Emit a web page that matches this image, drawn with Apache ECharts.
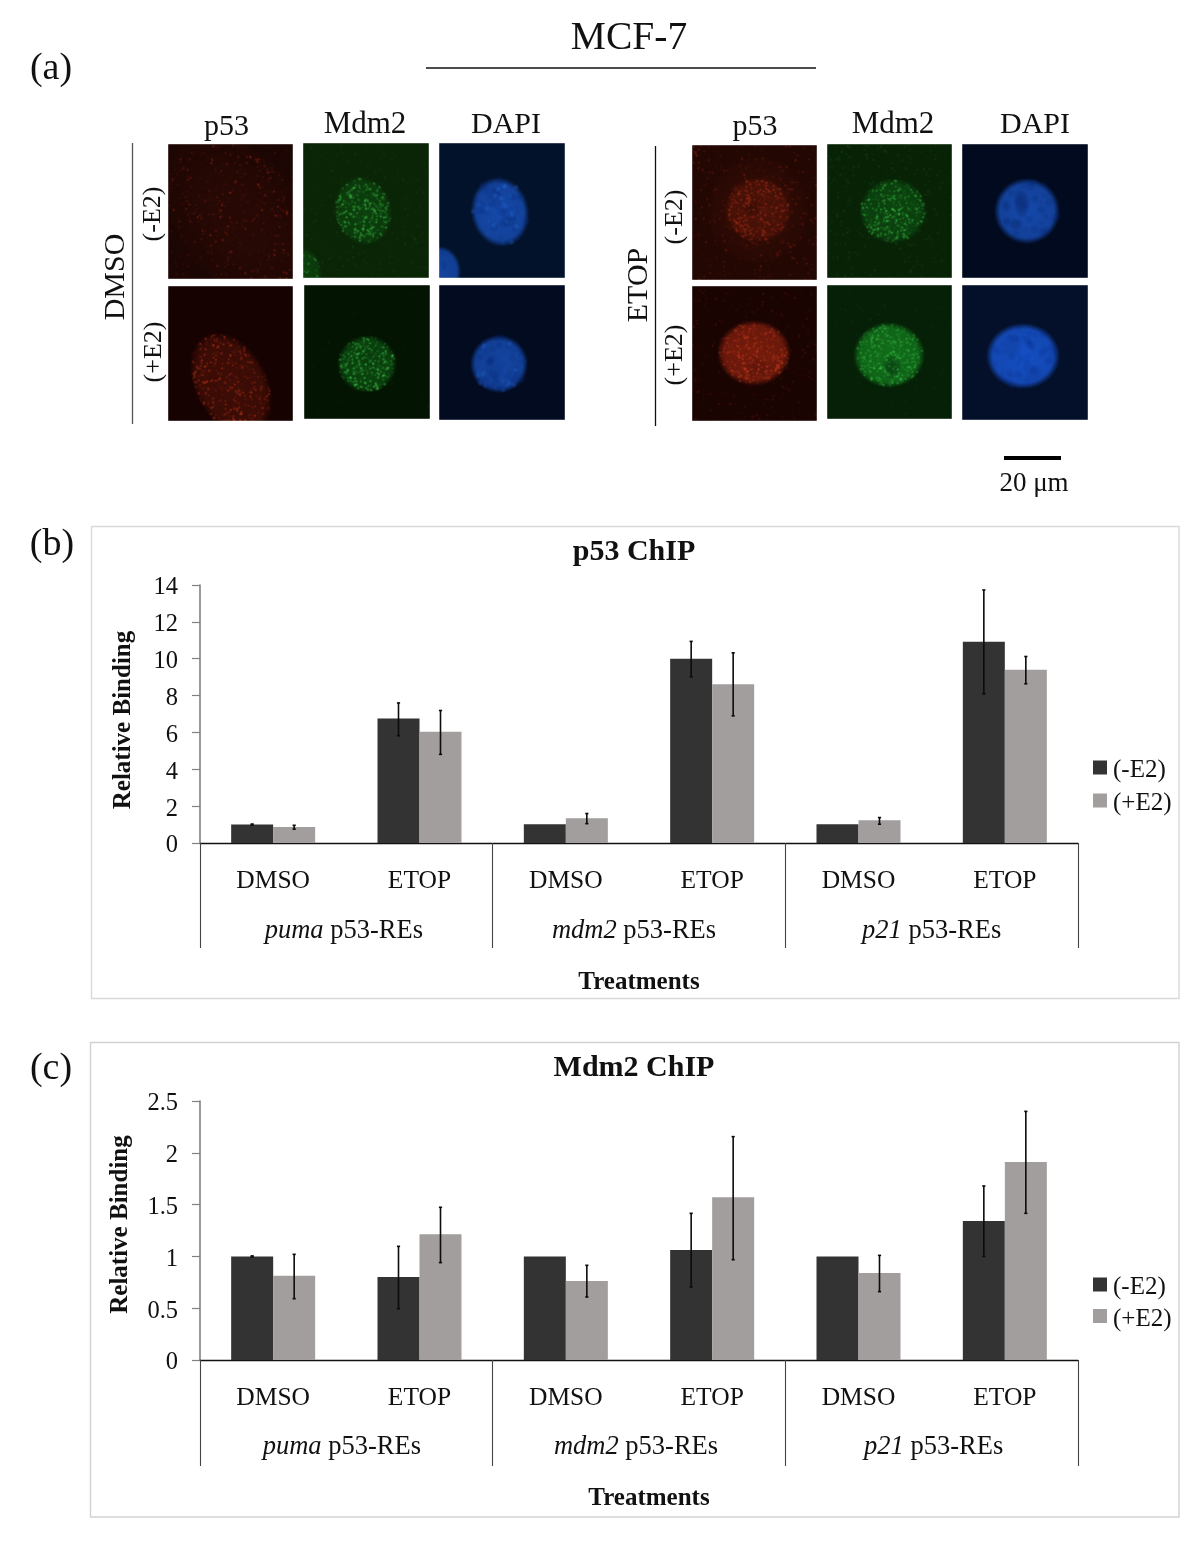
<!DOCTYPE html>
<html>
<head>
<meta charset="utf-8">
<style>html,body{margin:0;padding:0;background:#fff}#chart{width:1200px;height:1552px}</style>
<script src="https://cdn.jsdelivr.net/npm/echarts@6/dist/echarts.min.js"></script>
</head>
<body>
<div id="chart"></div>
<script>
const treatments = ['DMSO','ETOP','DMSO','ETOP','DMSO','ETOP'];
const genes = ['puma','mdm2','p21'];
const yTicksP53 = {min:0, max:14, interval:2};
const yTicksMdm2 = {min:0, max:2.5, interval:0.5};

const p53Minus   = [1.00, 6.75, 1.02, 10.00, 1.02, 10.92];
const p53MinusLo = [0.97, 5.82, 1.02, 9.02, 1.02, 8.09];
const p53MinusHi = [1.03, 7.60, 1.02, 10.94, 1.02, 13.73];
const p53Plus    = [0.87, 6.04, 1.34, 8.62, 1.23, 9.40];
const p53PlusLo  = [0.75, 4.81, 1.05, 6.90, 1.02, 8.64];
const p53PlusHi  = [0.96, 7.19, 1.60, 10.32, 1.38, 10.12];

const mdm2Minus   = [1.00, 0.80, 1.00, 1.062, 1.00, 1.342];
const mdm2MinusLo = [0.995, 0.495, 1.00, 0.705, 1.00, 1.00];
const mdm2MinusHi = [1.005, 1.097, 1.00, 1.416, 1.00, 1.68];
const mdm2Plus    = [0.814, 1.213, 0.763, 1.57, 0.84, 1.911];
const mdm2PlusLo  = [0.592, 0.94, 0.608, 0.968, 0.66, 1.416];
const mdm2PlusHi  = [1.02, 1.474, 0.914, 2.156, 1.01, 2.40];

const FONT = '"Liberation Serif","Times New Roman",serif';
const DARK = '#333333', LIGHT = '#a19e9d';
const BAR_W = 42;

/* ---------- micrograph panels, painted on small canvases ---------- */
function hash(n){const s=Math.sin(n*12.9898+4.1414)*43758.5453;return s-Math.floor(s);}
function softBlob(c,b,rgb,alpha){
  c.save();c.translate(b.x,b.y);c.rotate((b.rot||0)*Math.PI/180);c.scale(b.rx,b.ry);
  const g=c.createRadialGradient(0,0,0,0,0,1);
  g.addColorStop(0,`rgba(${rgb},${alpha})`);g.addColorStop(b.edge||0.82,`rgba(${rgb},${alpha*0.88})`);
  g.addColorStop(0.94,`rgba(${rgb},${alpha*0.3})`);g.addColorStop(1,`rgba(${rgb},0)`);
  c.fillStyle=g;c.beginPath();c.arc(0,0,1,0,Math.PI*2);c.fill();c.restore();
}
function speckle(c,w,h,sp,b,seed){
  // hashed scatter, purely a visual texture for the micrographs
  const rgb=sp[0],count=sp[1],alpha=sp[2],size=sp[3]||1;
  for(let i=0;i<count;i++){
    const k=seed+i*3,u=hash(k),v=hash(k+1),q=hash(k+2);
    let x,y;
    if(b){
      const r=Math.sqrt(v)*0.94,t=u*Math.PI*2,ex=Math.cos(t)*r*b.rx,ey=Math.sin(t)*r*b.ry,ro=(b.rot||0)*Math.PI/180;
      x=b.x+ex*Math.cos(ro)-ey*Math.sin(ro);y=b.y+ex*Math.sin(ro)+ey*Math.cos(ro);
    } else {x=u*w;y=v*h;}
    c.fillStyle=`rgba(${rgb},${alpha*(0.3+q*0.7)})`;
    c.beginPath();c.arc(x,y,(0.4+q*0.6)*size,0,Math.PI*2);c.fill();
  }
}
function paintPanel(p,idx){
  const w=p.w,h=p.h,raw=document.createElement('canvas');raw.width=w*2;raw.height=h*2;
  const c=raw.getContext('2d');c.scale(2,2);
  c.fillStyle=p.bg;c.fillRect(0,0,w,h);
  let seed=101+idx*977;
  if(p.noise){speckle(c,w,h,p.noise,null,seed);seed+=p.noise[1]*3;}
  (p.blobs||[]).forEach(b=>{
    softBlob(c,b,b.rgb,b.a);
    (b.holes||[]).forEach(o=>softBlob(c,{x:o.x,y:o.y,rx:o.rx,ry:o.ry,rot:o.rot,edge:0.5},b.holeRgb,o.a||0.6));
    (b.sp||[]).forEach(s=>{speckle(c,w,h,s,b,seed);seed+=s[1]*3;});
  });
  const out=document.createElement('canvas');out.width=raw.width;out.height=raw.height;
  const o=out.getContext('2d');o.filter='blur(1.3px)';o.drawImage(raw,0,0);
  return out;
}
const B='26,88,205';
const panels=[
 // left, p53
 {x:168,y:144,w:125,h:135,bg:'#1c0603',noise:['120,30,14',300,0.45],blobs:[
   {x:72,y:74,rx:62,ry:95,rot:-38,rgb:'85,20,10',a:0.2,edge:0.4,sp:[['170,44,20',280,0.65]]}]},
 {x:168,y:286,w:125,h:135,bg:'#150201',noise:['80,16,8',70,0.3],blobs:[
   {x:63,y:98,rx:37,ry:56,rot:-28,rgb:'95,22,10',a:0.55,sp:[['215,58,28',420,0.62]]}]},
 // left, Mdm2
 {x:303,y:143,w:126,h:135,bg:'#0a2506',noise:['30,90,28',300,0.35],blobs:[
   {x:60,y:68,rx:29,ry:35,rot:-14,rgb:'12,72,16',a:0.7,sp:[['70,215,80',340,0.65]]},
   {x:0,y:133,rx:19,ry:28,rot:0,rgb:'12,72,16',a:0.7,sp:[['70,205,80',100,0.55]]}]},
 {x:304,y:285,w:126,h:134,bg:'#041402',noise:['22,70,22',120,0.3],blobs:[
   {x:63,y:79,rx:30,ry:29,rot:0,rgb:'12,80,18',a:0.8,holes:[{x:66,y:74,rx:11,ry:16,a:0.35}],holeRgb:'6,45,10',sp:[['75,225,85',340,0.65]]}]},
 // left, DAPI
 {x:439,y:143,w:126,h:135,bg:'#03122b',blobs:[
   {x:61,y:69,rx:29,ry:35,rot:-12,rgb:B,a:0.78,holes:[{x:55,y:52,rx:9,ry:12,a:0.3},{x:70,y:78,rx:7,ry:7,a:0.25}],holeRgb:'10,45,120',
    sp:[['8,40,120',50,0.22,4],['50,125,245',30,0.25,2.5]]},
   {x:0,y:128,rx:22,ry:25,rot:0,rgb:B,a:0.72,sp:[['8,40,120',14,0.22,4]]}]},
 {x:439,y:285,w:126,h:135,bg:'#020b20',blobs:[
   {x:60,y:79,rx:29,ry:29,rot:0,rgb:B,a:0.76,holes:[{x:55,y:82,rx:10,ry:13,a:0.3}],holeRgb:'10,45,120',
    sp:[['8,40,120',45,0.22,4],['50,125,245',25,0.22,2.5]]}]},
 // right, p53
 {x:692,y:145,w:125,h:135,bg:'#220703',noise:['170,42,20',480,0.48],blobs:[
   {x:66,y:65,rx:52,ry:55,rot:0,rgb:'105,26,12',a:0.25,edge:0.4},
   {x:66,y:65,rx:34,ry:33,rot:0,rgb:'105,26,12',a:0.42,holes:[{x:60,y:62,rx:9,ry:9,a:0.55}],holeRgb:'45,10,5',sp:[['215,60,28',340,0.6]]}]},
 {x:692,y:286,w:125,h:135,bg:'#1a0402',noise:['145,34,16',260,0.42],blobs:[
   {x:62,y:67,rx:37,ry:33,rot:0,rgb:'150,36,16',a:0.72,holes:[{x:66,y:82,rx:13,ry:12,a:0.35}],holeRgb:'70,16,8',sp:[['235,75,36',380,0.55]]}]},
 // right, Mdm2
 {x:827,y:144,w:125,h:134,bg:'#082206',noise:['34,110,36',440,0.38],blobs:[
   {x:66,y:67,rx:34,ry:33,rot:0,rgb:'12,78,18',a:0.75,holes:[{x:52,y:62,rx:9,ry:13,a:0.25}],holeRgb:'8,50,12',sp:[['70,220,80',380,0.62]]}]},
 {x:827,y:285,w:125,h:134,bg:'#052006',noise:['24,85,28',220,0.32],blobs:[
   {x:62,y:70,rx:36,ry:33,rot:0,rgb:'18,115,28',a:0.92,holes:[{x:65,y:82,rx:9,ry:12,a:0.75}],holeRgb:'8,60,16',sp:[['75,220,85',420,0.55]]}]},
 // right, DAPI
 {x:962,y:144,w:126,h:134,bg:'#020a1f',blobs:[
   {x:65,y:67,rx:33,ry:33,rot:0,rgb:B,a:0.8,holes:[{x:60,y:60,rx:8,ry:14,a:0.45},{x:54,y:80,rx:7,ry:6,a:0.35},{x:44,y:62,rx:5,ry:6,a:0.25}],holeRgb:'6,30,90',
    sp:[['8,40,120',45,0.2,4]]}]},
 {x:962,y:285,w:126,h:135,bg:'#04102a',blobs:[
   {x:61,y:71,rx:37,ry:33,rot:0,rgb:'24,90,222',a:0.86,holes:[{x:50,y:62,rx:10,ry:14,a:0.22},{x:72,y:88,rx:9,ry:9,a:0.2}],holeRgb:'10,45,120',
    sp:[['8,40,130',50,0.18,4]]}]}
];

function txt(s,x,y,size){
  return {type:'text',x:x,y:y+2,silent:true,style:{text:s,fill:'#111',font:`${size}px ${FONT}`,align:'center',verticalAlign:'middle'}};
}
function rot(s,x,y,size){return {type:'text',x:x+2,y:y,rotation:Math.PI/2,silent:true,
  style:{text:s,fill:'#111',font:`${size}px ${FONT}`,align:'center',verticalAlign:'middle'}};}
function seg(x1,y1,x2,y2,color,w){return {type:'line',silent:true,shape:{x1,y1,x2,y2},style:{stroke:color,lineWidth:w}};}

const graphicEls=[
  {type:'rect',silent:true,z:-1,shape:{x:91.5,y:526.5,width:1087.5,height:472},style:{fill:'#fff',stroke:'#d9d9d9',lineWidth:1.4}},
  {type:'rect',silent:true,z:-1,shape:{x:90.5,y:1042.5,width:1088.5,height:474.5},style:{fill:'#fff',stroke:'#d2d2d2',lineWidth:1.4}},
  txt('MCF-7',629,37,39.5),
  seg(426,68,816,68,'#111',1.6),
  txt('(a)',51,67,38),txt('(b)',52,543,38),txt('(c)',51,1067,38),
  txt('p53',226.5,125,30),txt('Mdm2',365,123,31),txt('DAPI',506,123,30),
  txt('p53',755,125,30),txt('Mdm2',893,123,31),txt('DAPI',1035,123,30),
  rot('DMSO',114,277,30),rot('(-E2)',151,214,26),rot('(+E2)',152,352,26),
  rot('ETOP',637,285,30),rot('(-E2)',673,217,26),rot('(+E2)',673,355,26),
  seg(132.5,143,132.5,424,'#555',1.3),
  seg(655.5,146,655.5,426,'#111',1.3),
  seg(1004,458,1061,458,'#000',4),
  txt('20 μm',1034,482,27)
];
panels.forEach((p,i)=>graphicEls.push({type:'image',silent:true,x:p.x,y:p.y,style:{image:paintPanel(p,i),x:0,y:0,width:p.w,height:p.h}}));

/* ---------- charts ---------- */
function errSeries(name,xi,yi,lo,hi,dir){
  return {type:'custom',name:name,xAxisIndex:xi,yAxisIndex:yi,z:5,clip:false,silent:true,
    data:lo.map((v,i)=>[i,v,hi[i]]),
    renderItem:function(params,api){
      if(api.value(1)===api.value(2)) return null;
      const t=api.coord([api.value(0),api.value(2)]),b=api.coord([api.value(0),api.value(1)]);
      const x=t[0]+dir*BAR_W/2,st={stroke:'#0c0c0c',lineWidth:1.6};
      return {type:'group',children:[
        {type:'line',shape:{x1:x,y1:t[1],x2:x,y2:b[1]},style:st},
        {type:'line',shape:{x1:x-1.6,y1:t[1],x2:x+1.6,y2:t[1]},style:st},
        {type:'line',shape:{x1:x-1.6,y1:b[1],x2:x+1.6,y2:b[1]},style:st}]};
    }};
}
function bars(name,xi,yi,vals,color){
  return {type:'bar',name:name,xAxisIndex:xi,yAxisIndex:yi,data:vals,barWidth:BAR_W,barGap:'0%',silent:true,itemStyle:{color:color}};
}
function xAxes(gi,margin1,margin2,tick,nameGap,namePad,shifts){
  const rich={};
  genes.forEach((g,i)=>{
    const s=shifts[i];
    rich['i'+i]={fontFamily:FONT,fontSize:26.5,fontStyle:'italic',color:'#111',padding:[0,0,0,s>0?s:0]};
    rich['n'+i]={fontFamily:FONT,fontSize:26.5,color:'#111',padding:[0,s<0?-s:0,0,0]};
  });
  return [
    {type:'category',gridIndex:gi,position:'bottom',data:treatments,
     axisLine:{show:true,onZero:false,lineStyle:{color:'#111',width:1.3}},axisTick:{show:false},
     axisLabel:{interval:0,margin:margin1,color:'#111',fontFamily:FONT,fontSize:25.5}},
    {type:'category',gridIndex:gi,position:'bottom',data:genes,
     name:'Treatments',nameLocation:'middle',nameGap:nameGap,
     nameTextStyle:{fontFamily:FONT,fontSize:25,fontWeight:'bold',color:'#111',padding:namePad},
     axisLine:{show:false},axisTick:{show:true,length:tick,lineStyle:{color:'#444',width:1.1}},
     axisLabel:{interval:0,margin:margin2,fontFamily:FONT,fontSize:26.5,
       formatter:(v,i)=>`{i${i}|${v}} {n${i}|p53-REs}`,rich:rich}}
  ];
}
function yAxis(gi,t,namePad){
  return {type:'value',gridIndex:gi,min:t.min,max:t.max,interval:t.interval,
    name:'Relative Binding',nameLocation:'middle',nameRotate:90,nameGap:gi?66.5:64,
    nameTextStyle:{fontFamily:FONT,fontSize:25,fontWeight:'bold',color:'#111',padding:namePad},
    splitLine:{show:false},
    axisLine:{show:true,lineStyle:{color:'#808080',width:1.6}},
    axisTick:{show:true,length:8,lineStyle:{color:'#808080',width:1.2}},
    axisLabel:{margin:22,formatter:v=>`{t|${v}}`,
      rich:{t:{color:'#111',fontFamily:FONT,fontSize:24.5,padding:[6,0,0,0]}}}};
}
function legend(top,gap){
  return {orient:'vertical',left:1093,top:top,padding:0,itemWidth:14,itemHeight:14,itemGap:gap,itemStyle:{borderWidth:0},
    data:['(-E2)','(+E2)'],selectedMode:false,icon:'rect',formatter:'{t|{name}}',
    textStyle:{rich:{t:{fontFamily:FONT,fontSize:25,color:'#111',padding:[6,0,0,1]}}}};
}
function title(text,y){
  return {text:text,left:634,top:y,padding:0,textAlign:'center',textVerticalAlign:'middle',
    textStyle:{fontFamily:FONT,fontSize:30,fontWeight:'bold',color:'#111'}};
}
const option={
  animation:false,backgroundColor:'#fff',
  title:[title('p53 ChIP',552),title('Mdm2 ChIP',1068)],
  legend:[legend(758,8),legend(1275,6.5)],
  grid:[{left:200,top:585,width:878,height:258},{left:200,top:1101,width:878,height:259}],
  xAxis:[...xAxes(0,25.5,75,105,127.5,[0,0,0,0],[-5,-10,0]),...xAxes(1,25.5,74,106,126.5,[0,0,0,20],[-9,-6,4])],
  yAxis:[yAxis(0,yTicksP53,[0,12,0,0]),yAxis(1,yTicksMdm2,[0,0,0,12])],
  series:[
    bars('(-E2)',0,0,p53Minus,DARK),bars('(+E2)',0,0,p53Plus,LIGHT),
    errSeries('p53 SD (-E2)',0,0,p53MinusLo,p53MinusHi,-1),errSeries('p53 SD (+E2)',0,0,p53PlusLo,p53PlusHi,1),
    bars('(-E2)',2,1,mdm2Minus,DARK),bars('(+E2)',2,1,mdm2Plus,LIGHT),
    errSeries('Mdm2 SD (-E2)',2,1,mdm2MinusLo,mdm2MinusHi,-1),errSeries('Mdm2 SD (+E2)',2,1,mdm2PlusLo,mdm2PlusHi,1)
  ],
  graphic:{elements:graphicEls}
};
const chart=echarts.init(document.getElementById('chart'),null,{renderer:'canvas',width:1200,height:1552});
chart.setOption(option);
</script>
</body>
</html>
